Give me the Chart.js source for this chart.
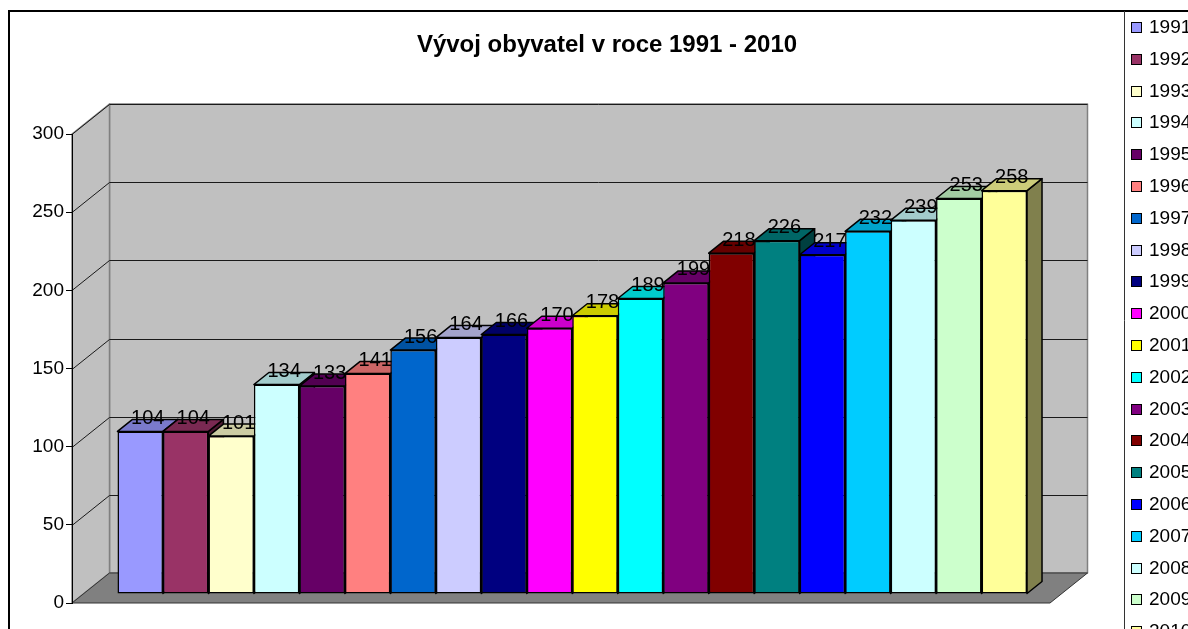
<!DOCTYPE html>
<html>
<head>
<meta charset="utf-8">
<script src="https://cdn.jsdelivr.net/npm/chart.js@4.4.1/dist/chart.umd.min.js"></script>
<style>
  html, body { margin: 0; padding: 0; background: #fff; overflow: hidden; }
  canvas { display: block; }
</style>
</head>
<body>
<canvas id="c" width="1214" height="629" style="width:1214px;height:629px"></canvas>
<script>
// ---- data ----
const years = ['1991','1992','1993','1994','1995','1996','1997','1998','1999','2000',
               '2001','2002','2003','2004','2005','2006','2007','2008','2009','2010'];
const values = [104, 104, 101, 134, 133, 141, 156, 164, 166, 170,
                178, 189, 199, 218, 226, 217, 232, 239, 253, 258];
const colors = ['#9999FF','#993366','#FFFFCC','#CCFFFF','#660066','#FF8080','#0066CC','#CCCCFF','#000080','#FF00FF',
                '#FFFF00','#00FFFF','#800080','#800000','#008080','#0000FF','#00CCFF','#CCFFFF','#CCFFCC','#FFFF99'];
const titleText = 'Vývoj obyvatel v roce 1991 - 2010';
const yMin = 0, yMax = 300, yStep = 50;

const FONT = '"Liberation Sans", Arial, sans-serif';
// depth vector of the 3D box (front plane -> back wall)
const DEPTH = { x: 37.5, y: -30 };
const BAR_FRONT = 0.3;   // fraction of depth in front of bars
const BAR_DEPTH = 0.4;   // fraction of depth taken by bars

function shade(hex, f) {
  const n = parseInt(hex.slice(1), 16);
  const r = Math.round(((n >> 16) & 255) * f), g = Math.round(((n >> 8) & 255) * f), b = Math.round((n & 255) * f);
  return 'rgb(' + r + ',' + g + ',' + b + ')';
}
function poly(ctx, pts, fill, stroke, lw) {
  ctx.beginPath();
  ctx.moveTo(pts[0][0], pts[0][1]);
  for (let i = 1; i < pts.length; i++) ctx.lineTo(pts[i][0], pts[i][1]);
  ctx.closePath();
  if (fill) { ctx.fillStyle = fill; ctx.fill(); }
  if (stroke) { ctx.strokeStyle = stroke; ctx.lineWidth = lw || 1; ctx.lineJoin = 'round'; ctx.stroke(); }
}

const box3d = {
  id: 'box3d',
  beforeDraw(chart) {
    const ctx = chart.ctx, W = chart.width, H = chart.height;
    ctx.save();
    ctx.fillStyle = '#fff';
    ctx.fillRect(0, 0, W, H);
    // outer chart frame
    ctx.strokeStyle = '#000'; ctx.lineWidth = 2;
    ctx.beginPath(); ctx.moveTo(9, H + 5); ctx.lineTo(9, 11); ctx.lineTo(W + 5, 11); ctx.stroke();

    const ys = chart.scales.y, a = chart.chartArea;
    const x0 = a.left, x1 = a.right;
    const yb = ys.getPixelForValue(yMin), yt = ys.getPixelForValue(yMax);
    const dx = DEPTH.x, dy = DEPTH.y;
    // back wall
    poly(ctx, [[x0+dx, yt+dy],[x1+dx, yt+dy],[x1+dx, yb+dy],[x0+dx, yb+dy]], '#C0C0C0', '#808080', 1.5);
    // left wall
    poly(ctx, [[x0, yt],[x0+dx, yt+dy],[x0+dx, yb+dy],[x0, yb]], '#C0C0C0', '#808080', 1.5);
    // gridlines
    ctx.strokeStyle = '#1a1a1a'; ctx.lineWidth = 1;
    for (let v = yMin + yStep; v <= yMax; v += yStep) {
      const p = Math.round(ys.getPixelForValue(v)) + 0.5;
      ctx.beginPath();
      ctx.moveTo(x0, p); ctx.lineTo(x0 + dx, p + dy); ctx.lineTo(x1 + dx, p + dy);
      ctx.stroke();
    }
    // floor
    poly(ctx, [[x0, yb],[x1, yb],[x1+dx, yb+dy],[x0+dx, yb+dy]], '#808080', '#333333', 1);
    // legend box
    ctx.fillStyle = '#fff';
    ctx.fillRect(1124, 12, W - 1124, H);
    ctx.strokeStyle = '#333'; ctx.lineWidth = 1;
    ctx.beginPath(); ctx.moveTo(1124.5, 11); ctx.lineTo(1124.5, H + 5); ctx.stroke();
    ctx.restore();
  },
  beforeDatasetsDraw(chart) {
    const ctx = chart.ctx;
    ctx.save();
    ctx.translate(DEPTH.x * BAR_FRONT, DEPTH.y * BAR_FRONT);
    const bx = DEPTH.x * BAR_DEPTH, by = DEPTH.y * BAR_DEPTH;
    const els = chart.data.datasets.map((ds, i) => chart.getDatasetMeta(i).data[0].getProps(['x','y','base','width'], true));
    // side faces
    els.forEach((e, i) => {
      const R = e.x + e.width / 2;
      poly(ctx, [[R, e.y],[R+bx, e.y+by],[R+bx, e.base+by],[R, e.base]], shade(colors[i], 0.5), '#000', 1.5);
    });
    // top faces
    els.forEach((e, i) => {
      const L = e.x - e.width / 2, R = e.x + e.width / 2;
      poly(ctx, [[L, e.y],[R, e.y],[R+bx, e.y+by],[L+bx, e.y+by]], shade(colors[i], 0.8), '#000', 1.5);
    });
    // value labels
    ctx.fillStyle = '#000';
    ctx.font = '20px ' + FONT;
    ctx.textAlign = 'center';
    ctx.textBaseline = 'middle';
    els.forEach((e, i) => {
      ctx.fillText(String(values[i]), e.x + bx / 2, e.y + by - 1);
    });
  },
  afterDatasetsDraw(chart) {
    chart.ctx.restore();
  },
  afterDraw(chart) {
    const ctx = chart.ctx;
    ctx.save();
    ctx.font = '19px ' + FONT;
    ctx.textAlign = 'left';
    ctx.textBaseline = 'middle';
    chart.data.datasets.forEach((ds, i) => {
      const yc = Math.round(27 + i * 31.8);
      ctx.fillStyle = ds.backgroundColor;
      ctx.fillRect(1131, yc - 5, 11, 11);
      ctx.strokeStyle = '#000'; ctx.lineWidth = 1;
      ctx.strokeRect(1131.5, yc - 4.5, 10, 10);
      ctx.fillStyle = '#000';
      ctx.fillText(ds.label, 1149, yc + 1);
    });
    ctx.restore();
  }
};

new Chart(document.getElementById('c'), {
  type: 'bar',
  data: {
    labels: [''],
    datasets: years.map((y, i) => ({
      label: y,
      data: [values[i]],
      backgroundColor: colors[i],
      borderColor: '#000',
      borderWidth: 1.5,
      borderSkipped: false
    }))
  },
  options: {
    responsive: false,
    animation: false,
    events: [],
    layout: { padding: { left: 0, right: 0, top: 0, bottom: 26 } },
    datasets: { bar: { categoryPercentage: 0.93, barPercentage: 1.0 } },
    plugins: {
      legend: { display: false },
      tooltip: { enabled: false },
      title: {
        display: true,
        text: titleText,
        color: '#000',
        font: { family: FONT, size: 24, weight: 'bold', lineHeight: 1.2 },
        padding: { top: 31, bottom: 74.2 }
      }
    },
    scales: {
      x: { display: false },
      y: {
        min: yMin, max: yMax,
        ticks: { stepSize: yStep, color: '#000', font: { family: FONT, size: 19 }, padding: 2 },
        grid: { drawOnChartArea: false, drawTicks: true, tickLength: 6, color: '#000' },
        border: { display: true, color: '#000', width: 1 },
        afterFit(s) { s.width = 72; }
      },
      yR: {
        position: 'right', display: true, min: yMin, max: yMax,
        ticks: { display: false },
        grid: { display: false, drawTicks: false },
        border: { display: false },
        afterFit(s) { s.width = 164; }
      }
    }
  },
  plugins: [box3d]
});
</script>
</body>
</html>
